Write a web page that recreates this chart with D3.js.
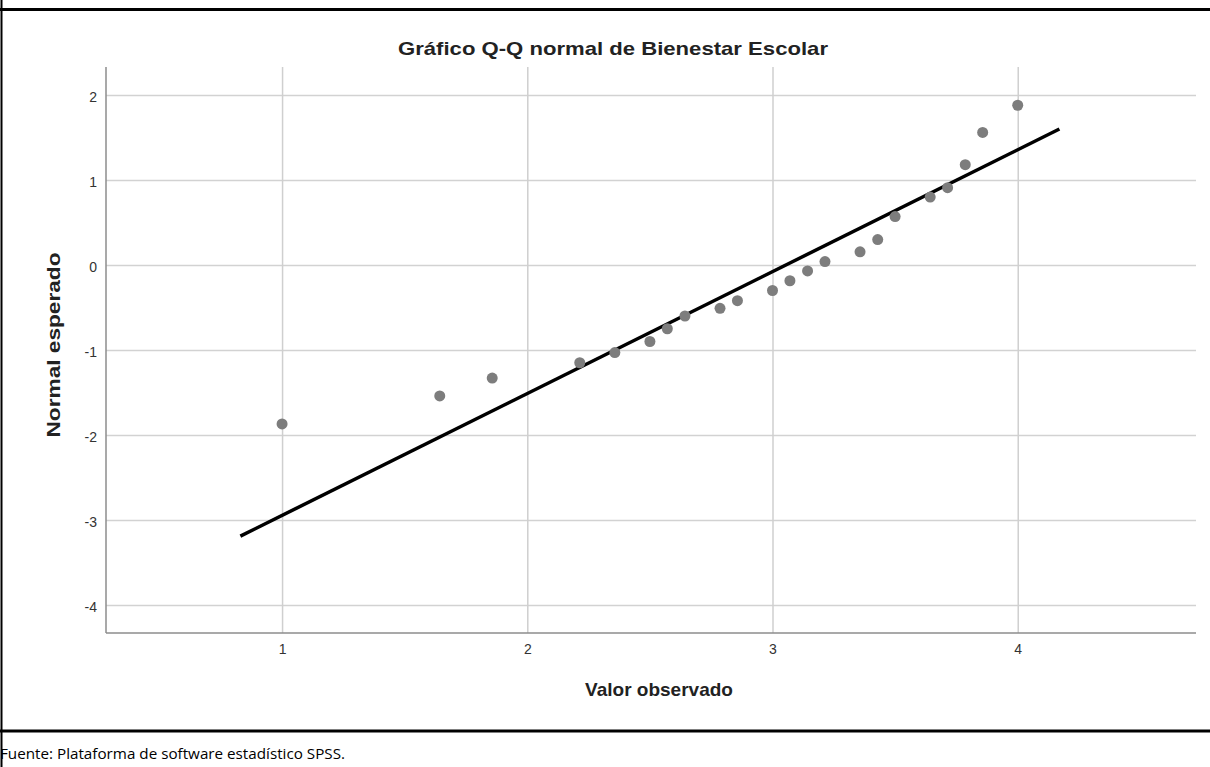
<!DOCTYPE html>
<html>
<head>
<meta charset="utf-8">
<script src="https://cdn.jsdelivr.net/npm/d3@7"></script>
<style>
body { margin: 0; background: #fff; }
svg { display: block; }
</style>
</head>
<body>
<svg id="chart" width="1210" height="767"></svg>
<script>

///////  Data ///////

var observed = [1.0, 1.643, 1.857, 2.214, 2.357, 2.5, 2.571, 2.643, 2.786, 2.857, 3.0,
                3.071, 3.143, 3.214, 3.357, 3.429, 3.5, 3.643, 3.714, 3.786, 3.857, 4.0];
var expected = [-1.87, -1.54, -1.33, -1.15, -1.03, -0.90, -0.75, -0.60, -0.51, -0.42, -0.30,
                -0.185, -0.07, 0.04, 0.155, 0.30, 0.57, 0.80, 0.91, 1.18, 1.56, 1.88];
var lineX = [0.83, 4.17];
var lineY = [-3.19, 1.60];
var xTicks = [1, 2, 3, 4];
var yTicks = [2, 1, 0, -1, -2, -3, -4];

///////  Setup ///////

var svg = d3.select("#chart"),
margin = {top: 67, right: 14, bottom: 134, left: 106},
width = +svg.attr("width") - margin.left - margin.right,
height = +svg.attr("height") - margin.top - margin.bottom;

var x = d3.scaleLinear().domain([0.282, 4.727]).range([0, width]),
y = d3.scaleLinear().domain([-4.33, 2.33]).range([height, 0]);

// SPSS writes negatives with a plain hyphen
var tickFmt = function(d) { return String(d); };

var g = svg.append("g")
.attr("transform", "translate(" + margin.left + "," + margin.top + ")");

///////  Frame lines ///////

svg.append("line").attr("x1", 0).attr("x2", 1210).attr("y1", 9.5).attr("y2", 9.5)
.attr("stroke", "#000").attr("stroke-width", 3);
svg.append("line").attr("x1", 1.5).attr("x2", 1.5).attr("y1", 0).attr("y2", 767)
.attr("stroke", "#000").attr("stroke-width", 2);
svg.append("line").attr("x1", 0).attr("x2", 1210).attr("y1", 731).attr("y2", 731)
.attr("stroke", "#000").attr("stroke-width", 3);

///////  Grid ///////

g.append("g")
.attr("class", "grid")
.call(d3.axisLeft(y).tickValues(yTicks).tickSize(-width).tickFormat(""))
.call(function(s) { s.select(".domain").remove(); })
.selectAll("line").attr("stroke", "#d2d2d2").attr("stroke-width", 1.5);

g.append("g")
.attr("class", "grid")
.attr("transform", "translate(0," + height + ")")
.call(d3.axisBottom(x).tickValues(xTicks).tickSize(-height).tickFormat(""))
.call(function(s) { s.select(".domain").remove(); })
.selectAll("line").attr("stroke", "#cfcfcf").attr("stroke-width", 1.5);

///////  Axes ///////

var yAxis = g.append("g")
.call(d3.axisLeft(y).tickValues(yTicks).tickSize(0).tickPadding(9).tickFormat(tickFmt));
yAxis.select(".domain").remove();
yAxis.selectAll("text").attr("font-family", "Liberation Sans, Arial, sans-serif")
.attr("font-size", "14px").attr("fill", "#333").attr("dy", "0.45em");

var xAxis = g.append("g")
.attr("transform", "translate(0," + height + ")")
.call(d3.axisBottom(x).tickValues(xTicks).tickSize(0).tickPadding(11).tickFormat(tickFmt));
xAxis.select(".domain").remove();
xAxis.selectAll("text").attr("font-family", "Liberation Sans, Arial, sans-serif")
.attr("font-size", "14px").attr("fill", "#333");

g.append("line").attr("x1", 0).attr("x2", 0).attr("y1", 0).attr("y2", height)
.attr("stroke", "#8c8c8c").attr("stroke-width", 1.5);
g.append("line").attr("x1", 0).attr("x2", width).attr("y1", height).attr("y2", height)
.attr("stroke", "#8c8c8c").attr("stroke-width", 1.5);

///////  Reference line and points ///////

var line = d3.line()
.x(function(d) { return x(d[0]); })
.y(function(d) { return y(d[1]); });

g.append("path")
.datum(d3.zip(lineX, lineY))
.attr("d", line)
.attr("fill", "none")
.attr("stroke", "#000")
.attr("stroke-width", 3.5);

g.selectAll(".dot")
.data(d3.zip(observed, expected))
.enter().append("circle")
.attr("class", "dot")
.attr("cx", function(d) { return x(d[0]); })
.attr("cy", function(d) { return y(d[1]); })
.attr("r", 5.5)
.attr("fill", "#7d7d7d");

///////  Texts ///////

svg.append("text")
.attr("x", 613).attr("y", 55)
.attr("text-anchor", "middle")
.attr("font-family", "Liberation Sans, Arial, sans-serif")
.attr("font-size", "19px").attr("font-weight", "bold").attr("fill", "#222")
.attr("textLength", 430).attr("lengthAdjust", "spacingAndGlyphs")
.text("Gráfico Q-Q normal de Bienestar Escolar");

svg.append("text")
.attr("x", 659).attr("y", 696)
.attr("text-anchor", "middle")
.attr("font-family", "Liberation Sans, Arial, sans-serif")
.attr("font-size", "19px").attr("font-weight", "bold").attr("fill", "#222")
.text("Valor observado");

svg.append("text")
.attr("transform", "translate(60,345) rotate(-90)")
.attr("text-anchor", "middle")
.attr("font-family", "Liberation Sans, Arial, sans-serif")
.attr("font-size", "19px").attr("font-weight", "bold").attr("fill", "#222")
.attr("textLength", 185).attr("lengthAdjust", "spacingAndGlyphs")
.text("Normal esperado");

svg.append("text")
.attr("x", 0).attr("y", 759)
.attr("font-family", "Open Sans, sans-serif")
.attr("font-size", "15px").attr("fill", "#000")
.attr("textLength", 345).attr("lengthAdjust", "spacingAndGlyphs")
.text("Fuente: Plataforma de software estadístico SPSS.");

</script>
</body>
</html>
